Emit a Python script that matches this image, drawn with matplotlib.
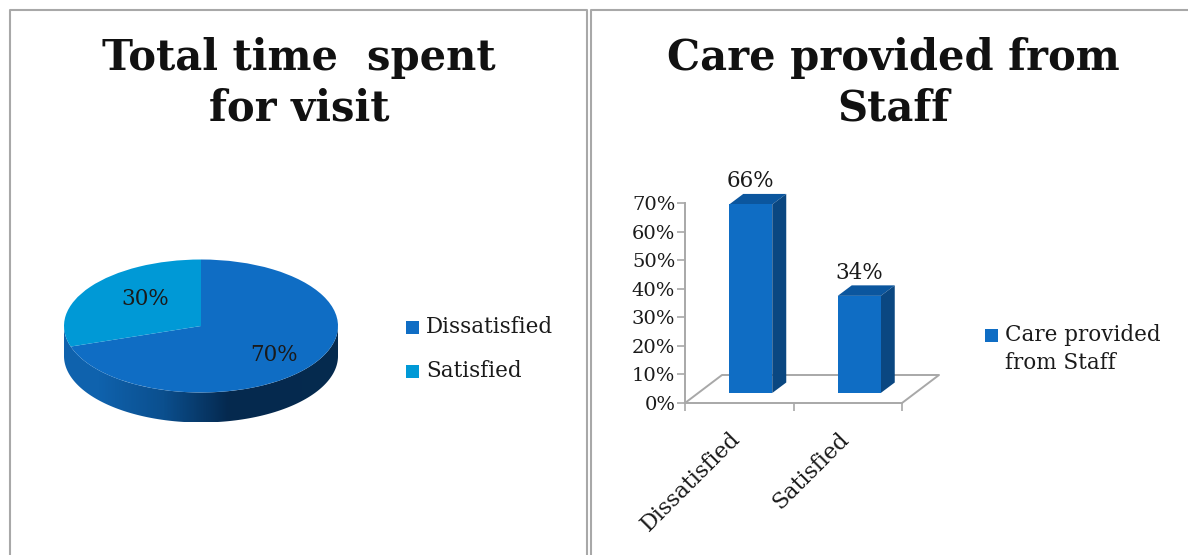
import matplotlib
matplotlib.use('Agg')
import matplotlib.pyplot as plt
from matplotlib.patches import Polygon, Rectangle
from matplotlib.colors import LinearSegmentedColormap
import numpy as np

W, H = 1188, 555

pie_labels = ["Dissatisfied", "Satisfied"]
pie_values = [70, 30]
bar_labels = ["Dissatisfied", "Satisfied"]
bar_values = [66, 34]
bar_series = "Care provided\nfrom Staff"
y_ticks = [0, 10, 20, 30, 40, 50, 60, 70]

BLUE = "#0f6dc4"
CYAN = "#0099d6"
BAR_TOP = "#0b569e"
BAR_SIDE = "#0a4781"
GREY = "#a8a8a8"
TEXT = "#1a1a1a"
FONT = "DejaVu Serif"


def px_axes(fig, left, top, right, bottom):
    # axes placed by pixel box, y counted from the top of the figure
    return fig.add_axes([left / W, 1 - bottom / H, (right - left) / W, (bottom - top) / H])


def legend_entry(ax, x, y, color, label, text_y=None):
    ax.add_patch(Rectangle((x, y - 6.5), 13, 13, fc=color, ec="none"))
    ax.text(x + 20, y if text_y is None else text_y, label, ha="left", va="center", family=FONT,
            fontsize=15.5, color=TEXT, linespacing=1.3)


fig = plt.figure(figsize=(W / 100, H / 100), dpi=100, facecolor="white")

# panel frames, titles and legends
bg = fig.add_axes([0, 0, 1, 1])
bg.set_xlim(0, W)
bg.set_ylim(H, 0)
bg.axis("off")
bg.plot([10, 10, 587, 587], [H, 10, 10, H], color=GREY, lw=1.5)
bg.plot([591, 591, W], [H, 10, 10], color=GREY, lw=1.5)
title_kw = dict(ha="center", va="center", family=FONT, fontweight="bold", color="#111111", fontsize=30,
                linespacing=1.25)
bg.text(299, 83, "Total time  spent\nfor visit", **title_kw)
bg.text(893, 83, "Care provided from\nStaff", **title_kw)

legend_entry(bg, 406, 327, BLUE, pie_labels[0])
legend_entry(bg, 406, 371, CYAN, pie_labels[1])
legend_entry(bg, 985, 335, BLUE, bar_series, text_y=349)

# pie: flattened top face over a shaded side wall
rx, ry, depth = 137, 66.5, 30
d = depth / ry
ax1 = px_axes(fig, 201 - rx, 326 - ry, 201 + rx, 326 + ry + depth)
wedges, _ = ax1.pie(pie_values, colors=[BLUE, CYAN], startangle=90, counterclock=False, radius=1)
ax1.set_aspect("auto")

t = np.linspace(np.pi, 2 * np.pi, 200)
wall_x = np.cos(t)
wall_y = np.sin(t)
wall = np.column_stack([np.r_[wall_x, wall_x[::-1]], np.r_[wall_y, wall_y[::-1] - d]])
wall_patch = Polygon(wall, closed=True, transform=ax1.transData, fc="none", ec="none")
ax1.add_patch(wall_patch)
shade = LinearSegmentedColormap.from_list("wall", ["#0f62ad", "#0b4f8e", "#05294f", "#052a4e"])
grad = ax1.imshow(np.array([[0, 0.35, 0.7, 1.0]]), extent=[-1, 1, -1 - d, 1],
                  cmap=shade, aspect="auto", interpolation="bilinear", zorder=0)
grad.set_clip_path(wall_patch)
ax1.set_xlim(-1, 1)
ax1.set_ylim(-1 - d, 1)
for w in wedges:
    w.set_zorder(2)

ax1.text(-0.41, 0.40, f"{pie_values[1]}%", ha="center", va="center", family=FONT, fontsize=15.5, color=TEXT, zorder=3)
ax1.text(0.53, -0.43, f"{pie_values[0]}%", ha="center", va="center", family=FONT, fontsize=15.5, color=TEXT, zorder=3)

# 3D-looking columns: axis runs 685-902 px across, 403-203 px for 0-70%
ax2 = px_axes(fig, 685, 203, 902, 403)
ax2.set_xlim(-0.5, 1.5)
ax2.set_ylim(0, 70)
ax2.patch.set_alpha(0)
for s in ["top", "right"]:
    ax2.spines[s].set_visible(False)
for s in ["left", "bottom"]:
    ax2.spines[s].set_color(GREY)
    ax2.spines[s].set_linewidth(1.4)
px_x = 2 / 217
px_y = 70 / 200

# floor outline
floor_dx, floor_dy = 37 * px_x, 28 * px_y
ax2.plot([-0.5, -0.5 + floor_dx, 1.5 + floor_dx, 1.5], [0, floor_dy, floor_dy, 0],
         color=GREY, lw=1.4, clip_on=False, zorder=1)

bar_w = 43 * px_x
off_x, off_y = 11.5 * px_x, 10 * px_y
dep_x, dep_y = 14 * px_x, 10.5 * px_y
for i, v in enumerate(bar_values):
    x0 = i + off_x - bar_w / 2
    x1 = x0 + bar_w
    ax2.bar(i + off_x, v, width=bar_w, bottom=off_y, color=BLUE, zorder=4, clip_on=False)
    top = off_y + v
    ax2.add_patch(Polygon([(x0, top), (x0 + dep_x, top + dep_y), (x1 + dep_x, top + dep_y), (x1, top)],
                          fc=BAR_TOP, ec="none", clip_on=False, zorder=3))
    ax2.add_patch(Polygon([(x1, off_y), (x1 + dep_x, off_y + dep_y), (x1 + dep_x, top + dep_y), (x1, top)],
                          fc=BAR_SIDE, ec="none", clip_on=False, zorder=3))
    ax2.text(i + off_x, top + dep_y + 0.6, f"{v}%", ha="center", va="bottom", family=FONT,
             fontsize=15.5, color=TEXT, zorder=5, clip_on=False)

ax2.set_yticks(y_ticks)
ax2.set_yticklabels([f"{y}%" for y in y_ticks], family=FONT, fontsize=14, color=TEXT)
ax2.set_xticks([-0.5, 0.5, 1.5])
ax2.set_xticklabels([])
ax2.tick_params(axis="both", color=GREY, width=1.2, length=6, pad=1)

for i, name in enumerate(bar_labels):
    ax2.annotate(name, xy=(i, 0), xytext=(-7, -18), textcoords="offset points", rotation=45,
                 rotation_mode="anchor", ha="right", va="top", family=FONT, fontsize=16, color=TEXT,
                 annotation_clip=False)

fig.savefig("out.png", dpi=100)
plt.close(fig)
